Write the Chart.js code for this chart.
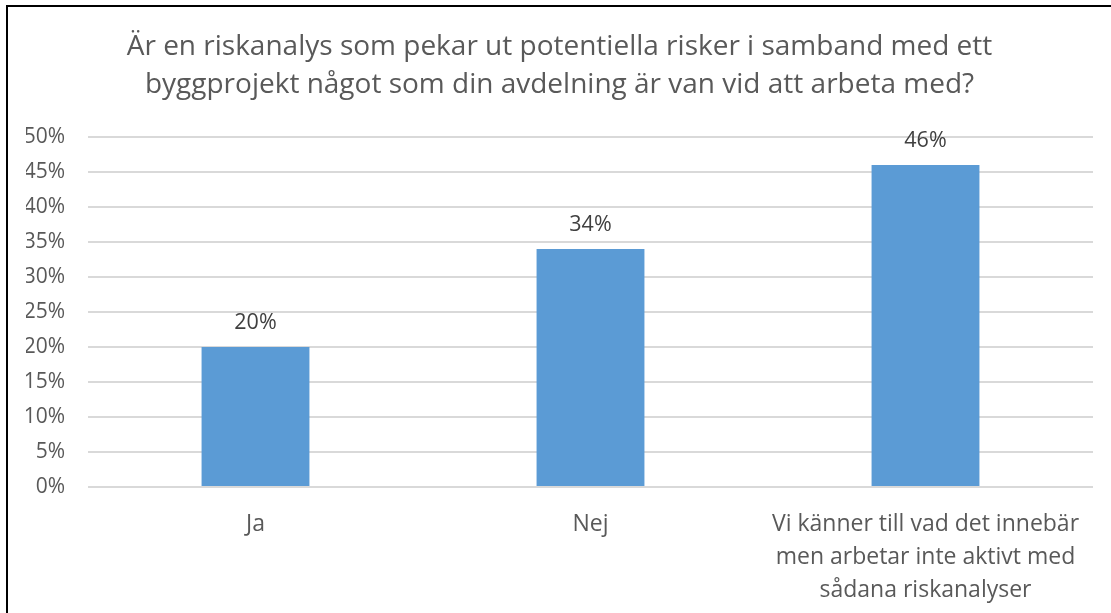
<!DOCTYPE html>
<html>
<head>
<meta charset="utf-8">
<script src="https://cdn.jsdelivr.net/npm/chart.js@4/dist/chart.umd.min.js"></script>
<style>
  html, body { margin: 0; padding: 0; overflow: hidden; background: #fff; }
  #frame { position: absolute; left: 6px; top: 5px; width: 2000px; height: 2000px; border: 2px solid #000; }
  #chart { position: absolute; left: 0; top: 0; }
</style>
</head>
<body>
<div id="frame"></div>
<canvas id="chart" width="1111" height="613"></canvas>
<script>
var titleLines = ['Är en riskanalys som pekar ut potentiella risker i samband med ett',
                  'byggprojekt något som din avdelning är van vid att arbeta med?'];
var categories = [['Ja'], ['Nej'], ['Vi känner till vad det innebär', 'men arbetar inte aktivt med', 'sådana riskanalyser']];
var values = [20, 34, 46];
var yMax = 50;
var yStep = 5;

var fontName = "'Open Sans', sans-serif";

// draws the percent labels above each bar
var barLabels = {
    id: 'barLabels',
    afterDatasetsDraw: function(chart) {
        var ctx = chart.ctx;
        var meta = chart.getDatasetMeta(0);
        ctx.save();
        ctx.font = '21.5px ' + fontName;
        ctx.fillStyle = '#404040';
        ctx.textAlign = 'center';
        ctx.textBaseline = 'middle';
        meta.data.forEach(function(bar, i) {
            ctx.fillText(values[i] + '%', bar.x, bar.y - 24);
        });
        ctx.restore();
    }
};

var ctx = document.getElementById('chart').getContext('2d');
var myChart = new Chart(ctx, {
    type: 'bar',
    data: {
        labels: categories,
        datasets: [{
            label: 'Andel',
            data: values,
            backgroundColor: '#5B9BD5',
            borderWidth: 0,
            barPercentage: 1,
            categoryPercentage: 0.322
        }]
    },
    options: {
        responsive: false,
        animation: false,
        layout: { padding: { left: 26, right: 18, top: 0, bottom: 0 } },
        plugins: {
            legend: { display: false },
            tooltip: { enabled: false },
            title: {
                display: true,
                text: titleLines,
                color: '#595959',
                font: { family: fontName, size: 28, weight: 'normal', lineHeight: 1.357 },
                padding: { top: 28, bottom: 33 }
            }
        },
        scales: {
            x: {
                grid: { display: false },
                border: { display: false },
                ticks: {
                    color: '#595959',
                    font: { family: fontName, size: 23, lineHeight: 1.43 },
                    padding: 13,
                    maxRotation: 0,
                    autoSkip: false
                },
                afterFit: function(scale) { scale.height = 126; }
            },
            y: {
                min: 0,
                max: yMax,
                grid: { color: '#D9D9D9', lineWidth: 2, drawTicks: false },
                border: { display: false },
                ticks: {
                    stepSize: yStep,
                    color: '#595959',
                    font: { family: fontName, size: 21 },
                    padding: 23,
                    callback: function(v) { return v + '%'; }
                },
                afterFit: function(scale) { scale.width = 62; }
            }
        }
    },
    plugins: [barLabels]
});
</script>
</body>
</html>
